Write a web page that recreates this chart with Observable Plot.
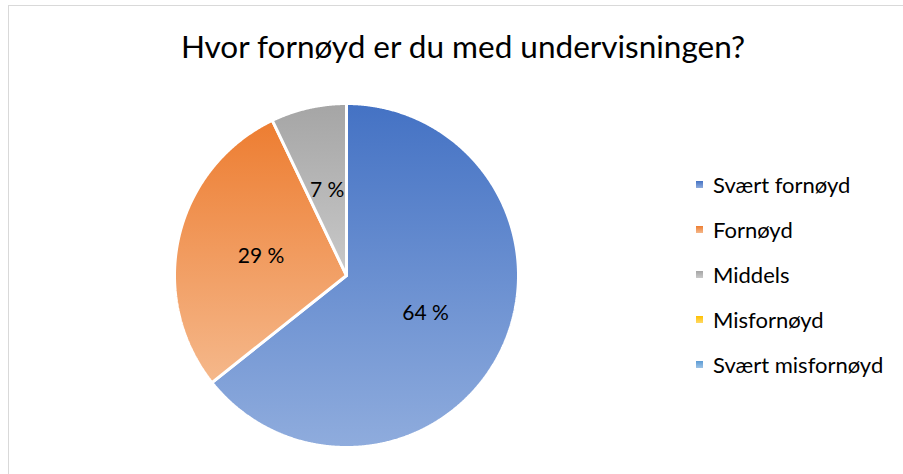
<!DOCTYPE html>
<html><head><meta charset="utf-8">
<script src="https://cdn.jsdelivr.net/npm/d3@7"></script>
<script src="https://cdn.jsdelivr.net/npm/@observablehq/plot@0.6"></script>
<style>
body{margin:0;background:#fff;font-family:Lato,"Open Sans",sans-serif;color:#000;}
#wrap{position:relative;width:903px;height:474px;overflow:hidden;background:#fff;}
#frame{position:absolute;left:8px;top:5px;width:1000px;height:600px;border-top:1.5px solid #d9d9d9;border-left:1.5px solid #d9d9d9;}
#title{position:absolute;left:0;width:926px;top:31px;text-align:center;font-size:31.5px;line-height:31.5px;white-space:nowrap;}
#pie{position:absolute;left:166px;top:95px;}
#legend{position:absolute;left:696px;top:162px;}
.item{height:45px;display:flex;align-items:center;font-size:22px;white-space:nowrap;}
.sw{width:7px;height:7px;margin-right:10px;}
</style></head>
<body>
<div id="wrap">
  <div id="frame"></div>
  <div id="title"></div>
  <div id="pie"></div>
  <div id="legend"></div>
</div>
<script>
const title = "Hvor fornøyd er du med undervisningen?";
const categories = ["Svært fornøyd", "Fornøyd", "Middels", "Misfornøyd", "Svært misfornøyd"];
const values = [64.3, 28.6, 7.1, 0, 0];
const valueLabels = ["64 %", "29 %", "7 %", "", ""];
const gradTop = ["#4472C4", "#ED7D31", "#A5A5A5", "#FFC000", "#5B9BD5"];
const gradBottom = ["#8FACDD", "#F5B88B", "#C9C9C9", "#FFD966", "#9DC3E6"];

document.getElementById("title").textContent = title;

const data = categories.map((c, i) => ({category: c, value: values[i], label: valueLabels[i], i}));
const arcs = d3.pie().sort(null).value(d => d.value)(data);

const slices = arcs.filter(a => a.data.value > 0);

function arcPoints(a) {
  const pts = [{x: 0, y: 0}];
  const n = Math.max(2, Math.ceil((a.endAngle - a.startAngle) / 0.005));
  for (let k = 0; k <= n; k++) {
    const t = a.startAngle + (a.endAngle - a.startAngle) * k / n;
    pts.push({x: Math.sin(t), y: Math.cos(t)});
  }
  pts.push({x: 0, y: 0});
  return pts;
}

const labelData = slices.map(a => {
  const m = (a.startAngle + a.endAngle) / 2;
  return {x: 0.51 * Math.sin(m), y: 0.51 * Math.cos(m), text: a.data.label};
});

function defsMark() {
  const g = d3.create("svg:g");
  const defs = g.append("defs");
  categories.forEach((c, i) => {
    const lg = defs.append("linearGradient").attr("id", "grad" + i)
      .attr("x1", 0).attr("y1", 0).attr("x2", 0).attr("y2", 1);
    lg.append("stop").attr("offset", "0%").attr("stop-color", gradTop[i]);
    lg.append("stop").attr("offset", "100%").attr("stop-color", gradBottom[i]);
  });
  return g.node();
}

const chart = Plot.plot({
  width: 360,
  height: 360,
  margin: 8,
  x: {domain: [-1, 1], axis: null},
  y: {domain: [-1, 1], axis: null},
  style: {fontFamily: "Lato, 'Open Sans', sans-serif", background: "transparent", overflow: "visible"},
  marks: [
    defsMark,
    ...slices.map(a => Plot.line(arcPoints(a), {
      x: "x", y: "y",
      fill: `url(#grad${a.data.i})`,
      stroke: "white",
      strokeWidth: 3,
      strokeLinejoin: "miter"
    })),
    Plot.text(labelData, {x: "x", y: "y", text: "text", fontSize: 21, fill: "black"})
  ]
});
document.getElementById("pie").appendChild(chart);

const legend = document.getElementById("legend");
categories.forEach((c, i) => {
  const item = document.createElement("div");
  item.className = "item";
  const sw = document.createElement("div");
  sw.className = "sw";
  sw.style.background = `linear-gradient(${gradTop[i]}, ${gradBottom[i]})`;
  const t = document.createElement("span");
  t.textContent = c;
  item.appendChild(sw);
  item.appendChild(t);
  legend.appendChild(item);
});
</script>
</body></html>
